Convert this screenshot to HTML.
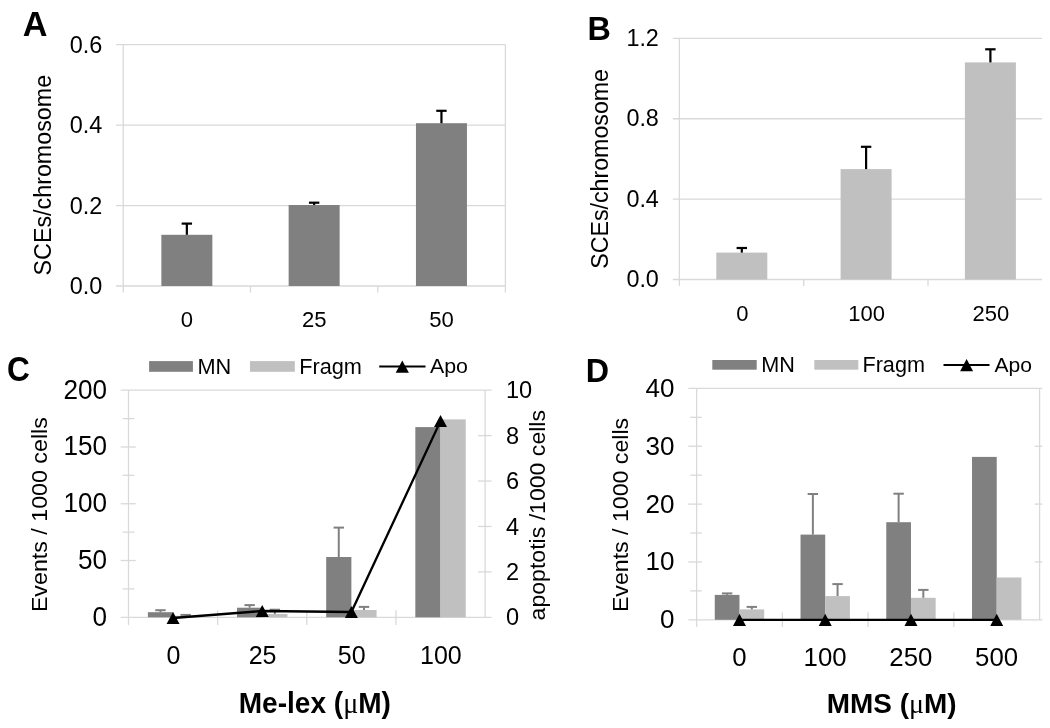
<!DOCTYPE html>
<html><head><meta charset="utf-8"><title>Figure</title>
<style>
html,body{margin:0;padding:0;background:#fff;}
body{width:1050px;height:728px;overflow:hidden;}
svg{display:block;filter:grayscale(1);}
svg text{font-family:"Liberation Sans", sans-serif;fill:#000;}
</style></head>
<body>
<svg width="1050" height="728" viewBox="0 0 1050 728">
<rect x="0" y="0" width="1050" height="728" fill="#fff"/>
<line x1="116.00" y1="286.00" x2="505.40" y2="286.00" stroke="#d9d9d9" stroke-width="1.3"/>
<line x1="116.00" y1="205.55" x2="505.40" y2="205.55" stroke="#d9d9d9" stroke-width="1.3"/>
<line x1="116.00" y1="125.10" x2="505.40" y2="125.10" stroke="#d9d9d9" stroke-width="1.3"/>
<line x1="116.00" y1="44.65" x2="505.40" y2="44.65" stroke="#d9d9d9" stroke-width="1.3"/>
<line x1="123.20" y1="44.65" x2="123.20" y2="292.50" stroke="#d9d9d9" stroke-width="1.3"/>
<line x1="505.40" y1="44.65" x2="505.40" y2="292.50" stroke="#d9d9d9" stroke-width="1.3"/>
<line x1="250.50" y1="286.00" x2="250.50" y2="292.50" stroke="#d9d9d9" stroke-width="1.3"/>
<line x1="377.80" y1="286.00" x2="377.80" y2="292.50" stroke="#d9d9d9" stroke-width="1.3"/>
<rect x="161.35" y="234.80" width="51.00" height="51.20" fill="#808080"/>
<line x1="186.85" y1="223.60" x2="186.85" y2="234.80" stroke="#000" stroke-width="2.2"/>
<line x1="181.65" y1="223.60" x2="192.05" y2="223.60" stroke="#000" stroke-width="2.2"/>
<rect x="288.65" y="205.00" width="51.00" height="81.00" fill="#808080"/>
<line x1="314.15" y1="202.70" x2="314.15" y2="205.00" stroke="#000" stroke-width="2.2"/>
<line x1="308.95" y1="202.70" x2="319.35" y2="202.70" stroke="#000" stroke-width="2.2"/>
<rect x="415.95" y="123.20" width="51.00" height="162.80" fill="#808080"/>
<line x1="441.45" y1="110.80" x2="441.45" y2="123.20" stroke="#000" stroke-width="2.2"/>
<line x1="436.25" y1="110.80" x2="446.65" y2="110.80" stroke="#000" stroke-width="2.2"/>
<line x1="672.80" y1="279.50" x2="1042.00" y2="279.50" stroke="#d9d9d9" stroke-width="1.3"/>
<line x1="672.80" y1="199.13" x2="1042.00" y2="199.13" stroke="#d9d9d9" stroke-width="1.3"/>
<line x1="672.80" y1="118.76" x2="1042.00" y2="118.76" stroke="#d9d9d9" stroke-width="1.3"/>
<line x1="672.80" y1="38.39" x2="1042.00" y2="38.39" stroke="#d9d9d9" stroke-width="1.3"/>
<line x1="679.40" y1="38.39" x2="679.40" y2="286.00" stroke="#d9d9d9" stroke-width="1.3"/>
<line x1="803.70" y1="279.50" x2="803.70" y2="286.00" stroke="#d9d9d9" stroke-width="1.3"/>
<line x1="928.00" y1="279.50" x2="928.00" y2="286.00" stroke="#d9d9d9" stroke-width="1.3"/>
<rect x="716.30" y="252.60" width="51.00" height="26.90" fill="#c0c0c0"/>
<line x1="741.80" y1="248.00" x2="741.80" y2="252.60" stroke="#000" stroke-width="2.2"/>
<line x1="736.60" y1="248.00" x2="747.00" y2="248.00" stroke="#000" stroke-width="2.2"/>
<rect x="840.60" y="169.10" width="51.00" height="110.40" fill="#c0c0c0"/>
<line x1="866.10" y1="146.80" x2="866.10" y2="169.10" stroke="#000" stroke-width="2.2"/>
<line x1="860.90" y1="146.80" x2="871.30" y2="146.80" stroke="#000" stroke-width="2.2"/>
<rect x="964.90" y="62.40" width="51.00" height="217.10" fill="#c0c0c0"/>
<line x1="990.40" y1="49.30" x2="990.40" y2="62.40" stroke="#000" stroke-width="2.2"/>
<line x1="985.20" y1="49.30" x2="995.60" y2="49.30" stroke="#000" stroke-width="2.2"/>
<line x1="120.70" y1="390.20" x2="491.60" y2="390.20" stroke="#d9d9d9" stroke-width="1.3"/>
<line x1="128.50" y1="390.20" x2="128.50" y2="625.10" stroke="#d9d9d9" stroke-width="1.3"/>
<line x1="485.10" y1="390.20" x2="485.10" y2="617.30" stroke="#d9d9d9" stroke-width="1.3"/>
<line x1="120.70" y1="617.30" x2="491.60" y2="617.30" stroke="#d9d9d9" stroke-width="1.3"/>
<line x1="122.60" y1="588.91" x2="134.40" y2="588.91" stroke="#d9d9d9" stroke-width="1.3"/>
<line x1="120.70" y1="560.52" x2="135.80" y2="560.52" stroke="#d9d9d9" stroke-width="1.3"/>
<line x1="122.60" y1="532.14" x2="134.40" y2="532.14" stroke="#d9d9d9" stroke-width="1.3"/>
<line x1="120.70" y1="503.75" x2="135.80" y2="503.75" stroke="#d9d9d9" stroke-width="1.3"/>
<line x1="122.60" y1="475.36" x2="134.40" y2="475.36" stroke="#d9d9d9" stroke-width="1.3"/>
<line x1="120.70" y1="446.97" x2="135.80" y2="446.97" stroke="#d9d9d9" stroke-width="1.3"/>
<line x1="122.60" y1="418.59" x2="134.40" y2="418.59" stroke="#d9d9d9" stroke-width="1.3"/>
<line x1="478.00" y1="571.88" x2="491.60" y2="571.88" stroke="#d9d9d9" stroke-width="1.3"/>
<line x1="478.00" y1="526.46" x2="491.60" y2="526.46" stroke="#d9d9d9" stroke-width="1.3"/>
<line x1="478.00" y1="481.04" x2="491.60" y2="481.04" stroke="#d9d9d9" stroke-width="1.3"/>
<line x1="478.00" y1="435.62" x2="491.60" y2="435.62" stroke="#d9d9d9" stroke-width="1.3"/>
<line x1="217.65" y1="610.20" x2="217.65" y2="625.10" stroke="#d9d9d9" stroke-width="1.3"/>
<line x1="306.80" y1="610.20" x2="306.80" y2="625.10" stroke="#d9d9d9" stroke-width="1.3"/>
<line x1="395.95" y1="610.20" x2="395.95" y2="625.10" stroke="#d9d9d9" stroke-width="1.3"/>
<rect x="147.88" y="612.20" width="25.20" height="5.10" fill="#808080"/>
<rect x="173.07" y="615.80" width="25.20" height="1.50" fill="#c0c0c0"/>
<line x1="160.47" y1="610.20" x2="160.47" y2="612.20" stroke="#808080" stroke-width="2.0"/>
<line x1="155.28" y1="610.20" x2="165.67" y2="610.20" stroke="#808080" stroke-width="2.0"/>
<line x1="185.67" y1="614.90" x2="185.67" y2="615.80" stroke="#808080" stroke-width="2.0"/>
<line x1="180.47" y1="614.90" x2="190.87" y2="614.90" stroke="#808080" stroke-width="2.0"/>
<rect x="237.03" y="607.70" width="25.20" height="9.60" fill="#808080"/>
<rect x="262.23" y="614.00" width="25.20" height="3.30" fill="#c0c0c0"/>
<line x1="249.63" y1="605.10" x2="249.63" y2="607.70" stroke="#808080" stroke-width="2.0"/>
<line x1="244.43" y1="605.10" x2="254.83" y2="605.10" stroke="#808080" stroke-width="2.0"/>
<line x1="274.83" y1="609.70" x2="274.83" y2="614.00" stroke="#808080" stroke-width="2.0"/>
<line x1="269.63" y1="609.70" x2="280.03" y2="609.70" stroke="#808080" stroke-width="2.0"/>
<rect x="326.18" y="557.00" width="25.20" height="60.30" fill="#808080"/>
<rect x="351.38" y="610.00" width="25.20" height="7.30" fill="#c0c0c0"/>
<line x1="338.77" y1="527.60" x2="338.77" y2="557.00" stroke="#808080" stroke-width="2.0"/>
<line x1="333.57" y1="527.60" x2="343.97" y2="527.60" stroke="#808080" stroke-width="2.0"/>
<line x1="363.98" y1="606.90" x2="363.98" y2="610.00" stroke="#808080" stroke-width="2.0"/>
<line x1="358.78" y1="606.90" x2="369.18" y2="606.90" stroke="#808080" stroke-width="2.0"/>
<rect x="415.33" y="427.10" width="25.20" height="190.20" fill="#808080"/>
<rect x="440.53" y="419.40" width="25.20" height="197.90" fill="#c0c0c0"/>
<polyline points="173.07,618.00 262.23,611.00 351.38,612.00 440.53,421.00" fill="none" stroke="#000" stroke-width="2.3"/>
<polygon points="173.07,611.90 179.57,624.10 166.57,624.10" fill="#000"/>
<polygon points="262.23,604.90 268.73,617.10 255.73,617.10" fill="#000"/>
<polygon points="351.38,605.90 357.88,618.10 344.88,618.10" fill="#000"/>
<polygon points="440.53,414.90 447.03,427.10 434.03,427.10" fill="#000"/>
<rect x="149.10" y="361.10" width="43.80" height="10.70" fill="#808080"/>
<rect x="250.00" y="361.10" width="44.80" height="10.70" fill="#c0c0c0"/>
<line x1="379.20" y1="366.50" x2="425.50" y2="366.50" stroke="#000" stroke-width="2.0"/>
<polygon points="402.30,360.45 408.90,372.75 395.70,372.75" fill="#000"/>
<line x1="688.30" y1="388.40" x2="1042.40" y2="388.40" stroke="#d9d9d9" stroke-width="1.3"/>
<line x1="696.60" y1="388.40" x2="696.60" y2="626.90" stroke="#d9d9d9" stroke-width="1.3"/>
<line x1="1039.60" y1="388.40" x2="1039.60" y2="619.80" stroke="#d9d9d9" stroke-width="1.3"/>
<line x1="688.30" y1="619.80" x2="1042.40" y2="619.80" stroke="#d9d9d9" stroke-width="1.3"/>
<line x1="690.30" y1="590.88" x2="701.70" y2="590.88" stroke="#d9d9d9" stroke-width="1.3"/>
<line x1="688.30" y1="561.95" x2="702.00" y2="561.95" stroke="#d9d9d9" stroke-width="1.3"/>
<line x1="690.30" y1="533.02" x2="701.70" y2="533.02" stroke="#d9d9d9" stroke-width="1.3"/>
<line x1="688.30" y1="504.10" x2="702.00" y2="504.10" stroke="#d9d9d9" stroke-width="1.3"/>
<line x1="690.30" y1="475.17" x2="701.70" y2="475.17" stroke="#d9d9d9" stroke-width="1.3"/>
<line x1="688.30" y1="446.25" x2="702.00" y2="446.25" stroke="#d9d9d9" stroke-width="1.3"/>
<line x1="690.30" y1="417.32" x2="701.70" y2="417.32" stroke="#d9d9d9" stroke-width="1.3"/>
<line x1="1034.70" y1="561.95" x2="1042.40" y2="561.95" stroke="#d9d9d9" stroke-width="1.3"/>
<line x1="1034.70" y1="504.10" x2="1042.40" y2="504.10" stroke="#d9d9d9" stroke-width="1.3"/>
<line x1="1034.70" y1="446.25" x2="1042.40" y2="446.25" stroke="#d9d9d9" stroke-width="1.3"/>
<line x1="782.35" y1="612.30" x2="782.35" y2="626.90" stroke="#d9d9d9" stroke-width="1.3"/>
<line x1="868.10" y1="612.30" x2="868.10" y2="626.90" stroke="#d9d9d9" stroke-width="1.3"/>
<line x1="953.85" y1="612.30" x2="953.85" y2="626.90" stroke="#d9d9d9" stroke-width="1.3"/>
<rect x="714.77" y="594.90" width="24.70" height="24.90" fill="#808080"/>
<rect x="739.48" y="609.40" width="24.70" height="10.40" fill="#c0c0c0"/>
<line x1="727.12" y1="593.40" x2="727.12" y2="594.90" stroke="#808080" stroke-width="2.0"/>
<line x1="721.92" y1="593.40" x2="732.33" y2="593.40" stroke="#808080" stroke-width="2.0"/>
<line x1="751.83" y1="606.90" x2="751.83" y2="609.40" stroke="#808080" stroke-width="2.0"/>
<line x1="746.62" y1="606.90" x2="757.03" y2="606.90" stroke="#808080" stroke-width="2.0"/>
<rect x="800.52" y="534.60" width="24.70" height="85.20" fill="#808080"/>
<rect x="825.22" y="596.10" width="24.70" height="23.70" fill="#c0c0c0"/>
<line x1="812.87" y1="494.00" x2="812.87" y2="534.60" stroke="#808080" stroke-width="2.0"/>
<line x1="807.67" y1="494.00" x2="818.07" y2="494.00" stroke="#808080" stroke-width="2.0"/>
<line x1="837.57" y1="584.10" x2="837.57" y2="596.10" stroke="#808080" stroke-width="2.0"/>
<line x1="832.37" y1="584.10" x2="842.77" y2="584.10" stroke="#808080" stroke-width="2.0"/>
<rect x="886.27" y="522.20" width="24.70" height="97.60" fill="#808080"/>
<rect x="910.97" y="597.80" width="24.70" height="22.00" fill="#c0c0c0"/>
<line x1="898.62" y1="493.70" x2="898.62" y2="522.20" stroke="#808080" stroke-width="2.0"/>
<line x1="893.42" y1="493.70" x2="903.82" y2="493.70" stroke="#808080" stroke-width="2.0"/>
<line x1="923.32" y1="589.90" x2="923.32" y2="597.80" stroke="#808080" stroke-width="2.0"/>
<line x1="918.12" y1="589.90" x2="928.52" y2="589.90" stroke="#808080" stroke-width="2.0"/>
<rect x="972.02" y="456.90" width="24.70" height="162.90" fill="#808080"/>
<rect x="996.72" y="577.50" width="24.70" height="42.30" fill="#c0c0c0"/>
<polyline points="739.48,619.80 825.22,619.80 910.97,619.80 996.72,619.80" fill="none" stroke="#000" stroke-width="2.3"/>
<polygon points="739.48,613.70 745.98,625.90 732.98,625.90" fill="#000"/>
<polygon points="825.22,613.70 831.72,625.90 818.72,625.90" fill="#000"/>
<polygon points="910.97,613.70 917.47,625.90 904.47,625.90" fill="#000"/>
<polygon points="996.72,613.70 1003.22,625.90 990.22,625.90" fill="#000"/>
<rect x="712.30" y="360.00" width="44.40" height="9.70" fill="#808080"/>
<rect x="814.30" y="360.00" width="44.00" height="9.70" fill="#c0c0c0"/>
<line x1="943.50" y1="365.00" x2="989.50" y2="365.00" stroke="#000" stroke-width="2.0"/>
<polygon points="966.60,359.00 973.10,371.20 960.10,371.20" fill="#000"/>
<text transform="translate(22.72 35.50) scale(1.0382 1.0374)" font-size="33" font-weight="bold">A</text>
<text transform="translate(69.78 293.99) scale(1.0200 1.0523)" font-size="23">0.0</text>
<text transform="translate(69.78 213.54) scale(1.0200 1.0523)" font-size="23">0.2</text>
<text transform="translate(69.78 133.09) scale(1.0200 1.0523)" font-size="23">0.4</text>
<text transform="translate(69.78 52.64) scale(1.0200 1.0523)" font-size="23">0.6</text>
<text transform="translate(180.74 326.65) scale(1.0044 1.0065)" font-size="22">0</text>
<text transform="translate(301.90 326.65) scale(1.0044 1.0065)" font-size="22">25</text>
<text transform="translate(429.20 326.65) scale(1.0044 1.0065)" font-size="22">50</text>
<text transform="translate(51.14 275.44) scale(1.0203 0.9915) rotate(-90)" font-size="23.5">SCEs/chromosome</text>
<text transform="translate(587.59 40.10) scale(0.9800 1.0198)" font-size="33" font-weight="bold">B</text>
<text transform="translate(626.38 287.14) scale(1.0167 1.0215)" font-size="23">0.0</text>
<text transform="translate(626.38 206.77) scale(1.0167 1.0215)" font-size="23">0.4</text>
<text transform="translate(626.38 126.40) scale(1.0167 1.0215)" font-size="23">0.8</text>
<text transform="translate(626.38 46.03) scale(1.0167 1.0215)" font-size="23">1.2</text>
<text transform="translate(736.18 320.74) scale(1.0000 1.0323)" font-size="22">0</text>
<text transform="translate(848.25 320.74) scale(1.0000 1.0323)" font-size="22">100</text>
<text transform="translate(972.55 320.74) scale(1.0000 1.0323)" font-size="22">250</text>
<text transform="translate(607.75 268.73) scale(1.0029 0.9870) rotate(-90)" font-size="23.5">SCEs/chromosome</text>
<text transform="translate(7.00 380.54) scale(0.9581 1.0366)" font-size="33" font-weight="bold">C</text>
<text transform="translate(92.61 625.64) scale(1.0049 1.0301)" font-size="26">0</text>
<text transform="translate(78.08 568.87) scale(1.0049 1.0301)" font-size="26">50</text>
<text transform="translate(63.54 512.09) scale(1.0049 1.0301)" font-size="26">100</text>
<text transform="translate(63.54 455.32) scale(1.0049 1.0301)" font-size="26">150</text>
<text transform="translate(63.54 398.54) scale(1.0049 1.0301)" font-size="26">200</text>
<text transform="translate(505.90 625.45) scale(1.0044 0.9910)" font-size="23.5">0</text>
<text transform="translate(505.90 580.03) scale(1.0044 0.9910)" font-size="23.5">2</text>
<text transform="translate(505.90 534.61) scale(1.0044 0.9910)" font-size="23.5">4</text>
<text transform="translate(505.90 489.19) scale(1.0044 0.9910)" font-size="23.5">6</text>
<text transform="translate(505.90 443.77) scale(1.0044 0.9910)" font-size="23.5">8</text>
<text transform="translate(505.90 398.35) scale(1.0044 0.9910)" font-size="23.5">10</text>
<text transform="translate(166.43 663.65) scale(0.9615 1.0027)" font-size="26">0</text>
<text transform="translate(248.63 663.65) scale(0.9615 1.0027)" font-size="26">25</text>
<text transform="translate(337.78 663.65) scale(0.9615 1.0027)" font-size="26">50</text>
<text transform="translate(419.98 663.65) scale(0.9615 1.0027)" font-size="26">100</text>
<text transform="translate(238.71 713.27) scale(1.0205 1.0485)" font-size="27.5" font-weight="bold">Me-lex (<tspan font-family="Liberation Serif" font-weight="normal">&#956;</tspan>M)</text>
<text transform="translate(47.15 612.12) scale(0.9824 1.0102) rotate(-90)" font-size="23">Events / 1000 cells</text>
<text transform="translate(545.08 620.40) scale(0.9721 1.0036) rotate(-90)" font-size="23">apoptotis /1000 cells</text>
<text transform="translate(197.43 373.90) scale(1.0100 1.0169)" font-size="21.5">MN</text>
<text transform="translate(299.23 373.90) scale(1.0100 1.0169)" font-size="21.5">Fragm</text>
<text transform="translate(430.00 373.18) scale(0.9933 0.9610)" font-size="21.5">Apo</text>
<text transform="translate(585.70 382.00) scale(0.9778 1.0154)" font-size="33" font-weight="bold">D</text>
<text transform="translate(660.08 628.25) scale(1.0018 1.0137)" font-size="26">0</text>
<text transform="translate(645.60 570.40) scale(1.0018 1.0137)" font-size="26">10</text>
<text transform="translate(645.60 512.55) scale(1.0018 1.0137)" font-size="26">20</text>
<text transform="translate(645.60 454.70) scale(1.0018 1.0137)" font-size="26">30</text>
<text transform="translate(645.60 396.85) scale(1.0018 1.0137)" font-size="26">40</text>
<text transform="translate(732.21 665.54) scale(0.9920 1.0247)" font-size="26">0</text>
<text transform="translate(803.61 665.54) scale(0.9920 1.0247)" font-size="26">100</text>
<text transform="translate(889.36 665.54) scale(0.9920 1.0247)" font-size="26">250</text>
<text transform="translate(975.11 665.54) scale(0.9920 1.0247)" font-size="26">500</text>
<text transform="translate(826.82 713.49) scale(1.0164 1.0097)" font-size="27.5" font-weight="bold">MMS (<tspan font-family="Liberation Serif" font-weight="normal">&#956;</tspan>M)</text>
<text transform="translate(627.66 612.11) scale(0.9765 1.0071) rotate(-90)" font-size="23">Events / 1000 cells</text>
<text transform="translate(761.24 372.30) scale(1.0067 1.0441)" font-size="21.5">MN</text>
<text transform="translate(862.44 372.30) scale(1.0067 1.0441)" font-size="21.5">Fragm</text>
<text transform="translate(994.50 371.61) scale(0.9799 0.9766)" font-size="21.5">Apo</text>
</svg>
</body></html>
